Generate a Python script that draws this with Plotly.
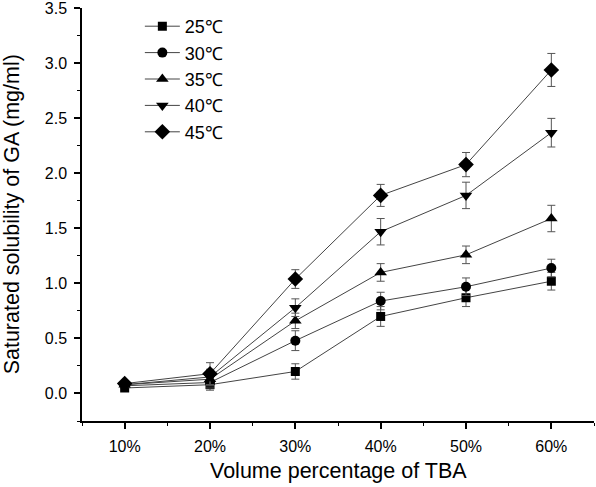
import plotly.graph_objects as go

categories = ["10%", "20%", "30%", "40%", "50%", "60%"]
series_names = ["25℃", "30℃", "35℃", "40℃", "45℃"]

s25 = [0.05, 0.08, 0.20, 0.70, 0.87, 1.02]
s30 = [0.07, 0.10, 0.48, 0.84, 0.97, 1.14]
s35 = [0.08, 0.13, 0.66, 1.10, 1.26, 1.59]
s40 = [0.08, 0.15, 0.78, 1.47, 1.80, 2.37]
s45 = [0.09, 0.18, 1.04, 1.80, 2.08, 2.94]

e25 = [0.02, 0.05, 0.07, 0.09, 0.08, 0.08]
e30 = [0.02, 0.05, 0.09, 0.08, 0.08, 0.08]
e35 = [0.02, 0.06, 0.07, 0.08, 0.08, 0.12]
e40 = [0.02, 0.07, 0.08, 0.12, 0.12, 0.13]
e45 = [0.02, 0.10, 0.085, 0.10, 0.11, 0.15]

values = [s25, s30, s35, s40, s45]
errors = [e25, e30, e35, e40, e45]
symbols = ["square", "circle", "triangle-up", "triangle-down", "diamond"]
sizes = [9, 10, 11, 11, 12]

x_title = "Volume percentage of TBA"
y_title = "Saturated solubility of GA (mg/ml)"

xpos = list(range(len(categories)))

FONT = "Liberation Sans, Arial, sans-serif"

fig = go.Figure()
for name, vals, errs, sym, sz in zip(series_names, values, errors, symbols, sizes):
    fig.add_trace(go.Scatter(
        x=xpos, y=vals, name=name, mode="lines+markers",
        line=dict(color="#444444", width=1),
        marker=dict(symbol=sym, size=sz, color="black"),
        error_y=dict(type="data", array=errs, visible=True,
                     color="#555555", thickness=1, width=4),
    ))

fig.update_layout(
    width=596, height=487,
    margin=dict(l=82, r=2, t=8, b=66, autoexpand=False),
    paper_bgcolor="white", plot_bgcolor="white",
    font=dict(family=FONT, color="black", size=16),
    showlegend=True,
    legend=dict(
        x=0.113, y=1.0, xanchor="left", yanchor="top",
        font=dict(size=18, family=FONT),
        bgcolor="rgba(0,0,0,0)",
        itemwidth=35,
        tracegroupgap=0,
    ),
    annotations=[
        dict(text=x_title, xref="paper", yref="paper", x=0.5, y=-0.122,
             xanchor="center", yanchor="middle", showarrow=False,
             font=dict(size=21.5, family=FONT)),
        dict(text=y_title, xref="paper", yref="paper", x=-0.137, y=0.5,
             xanchor="center", yanchor="middle", showarrow=False, textangle=-90,
             font=dict(size=21.5, family=FONT)),
    ],
)

fig.update_xaxes(
    range=[-0.5, 5.5], automargin=False,
    tickmode="array", tickvals=xpos, ticktext=categories,
    showline=True, linecolor="black", linewidth=1.5,
    ticks="outside", ticklen=6, tickwidth=1.5, tickcolor="black",
    showgrid=False, zeroline=False,
    tickfont=dict(size=16),
    ticklabelstandoff=4, ticklabeloverflow="allow",
    minor=dict(tickmode="array", tickvals=[p + 0.5 for p in [-1] + xpos],
               ticks="outside", ticklen=3, tickwidth=1.2, tickcolor="black"),
)

fig.update_yaxes(
    range=[-0.25, 3.503], automargin=False,
    tickmode="linear", tick0=0, dtick=0.5, tickformat=".1f",
    showline=True, linecolor="black", linewidth=1.5,
    ticks="outside", ticklen=6, tickwidth=1.5, tickcolor="black",
    showgrid=False, zeroline=False,
    tickfont=dict(size=16),
    ticklabelstandoff=4, ticklabeloverflow="allow",
    minor=dict(tickmode="linear", tick0=0.25, dtick=0.5,
               ticks="outside", ticklen=3, tickwidth=1.2, tickcolor="black"),
)

fig.write_html("out.html", config={"displayModeBar": False},
               post_script="document.body.style.margin='0';")
